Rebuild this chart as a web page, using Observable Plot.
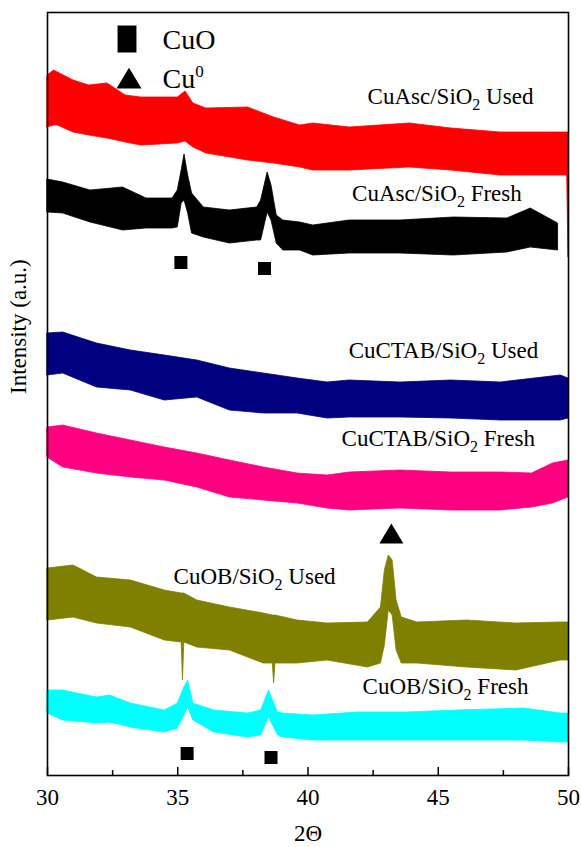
<!DOCTYPE html>
<html><head><meta charset="utf-8">
<script src="https://cdn.jsdelivr.net/npm/d3@7"></script>
<script src="https://cdn.jsdelivr.net/npm/@observablehq/plot@0.6"></script>
<style>html,body{margin:0;padding:0;background:#fff} svg{display:block} svg text{font-family:"Liberation Serif",serif}</style>
</head><body><div id="chart"></div>
<script>
// ---- data: 2θ (deg) and upper / lower edge of each noisy XRD trace (intensity, a.u.) ----
const ascUsedX  = [30.0, 30.25, 30.4, 31.0, 31.6, 32.3, 33.0, 33.6, 35.0, 35.3, 35.6, 36.1, 37.7, 38.7, 39.7, 40.2, 41.6, 43.9, 45.5, 47.4, 49.7, 49.95, 50.0];
const ascUsedHi = [700, 705, 703, 695, 690, 692, 680, 678, 678, 684, 672, 667, 668, 658, 650, 652, 648, 652, 647, 643, 643, 643, 643];
const ascUsedLo = [648, 650, 650, 643, 640, 637, 633, 630, 632, 634, 628, 622, 615, 612, 608, 605, 605, 608, 605, 600, 600, 600, 518];

const ascFreshX  = [30.0, 30.6, 31.65, 32.9, 33.8, 34.8, 35.0, 35.15, 35.26, 35.4, 35.55, 36.0, 37.0, 38.05, 38.2, 38.45, 38.6, 38.8, 39.05, 39.7, 40.2, 41.6, 43.55, 45.6, 47.65, 48.55, 49.6];
const ascFreshHi = [596, 593, 585, 588, 577, 577, 585, 605, 621, 600, 582, 568, 565, 568, 575, 603, 590, 560, 555, 553, 550, 555, 555, 558, 557, 567, 552];
const ascFreshLo = [563, 562, 553, 545, 547, 547, 548, 572, 575, 562, 542, 538, 532, 535, 535, 563, 555, 532, 525, 525, 520, 522, 522, 520, 523, 528, 525];

const ctabUsedX  = [30.0, 30.6, 31.9, 33.2, 34.5, 35.75, 37.0, 38.3, 39.6, 40.75, 41.6, 43.55, 45.5, 47.4, 49.7, 50.0];
const ctabUsedHi = [442, 443, 432, 425, 420, 415, 407, 402, 397, 393, 395, 393, 395, 393, 400, 397];
const ctabUsedLo = [400, 402, 388, 385, 375, 378, 365, 362, 362, 357, 358, 358, 357, 355, 355, 357];

const ctabFreshX  = [30.0, 30.6, 31.9, 33.2, 34.5, 35.75, 37.0, 38.3, 39.6, 40.75, 41.6, 43.55, 45.5, 47.4, 48.6, 49.4, 50.0];
const ctabFreshHi = [348, 350, 342, 335, 328, 322, 315, 308, 302, 300, 303, 305, 303, 303, 302, 312, 315];
const ctabFreshLo = [318, 308, 302, 298, 295, 288, 278, 275, 272, 267, 265, 267, 265, 265, 268, 272, 278];

const obUsedX  = [30.0, 31.0, 31.9, 33.2, 34.5, 35.15, 35.2, 35.25, 35.75, 37.0, 38.3, 38.65, 38.7, 38.75, 39.6, 40.75, 42.3, 42.8, 42.95, 43.1, 43.25, 43.4, 43.6, 44.2, 46.1, 48.0, 49.7, 50.0];
const obUsedHi = [207, 210, 198, 195, 185, 182, 182, 182, 175, 168, 162, 160, 160, 160, 155, 152, 153, 168, 205, 220, 215, 175, 158, 153, 155, 152, 153, 153];
const obUsedLo = [155, 158, 152, 148, 135, 133, 95, 133, 128, 125, 112, 112, 92, 112, 112, 115, 108, 112, 130, 165, 160, 125, 112, 112, 108, 105, 115, 115];

const obFreshX  = [30.0, 30.6, 31.9, 32.4, 33.2, 34.5, 35.0, 35.25, 35.4, 35.6, 36.4, 37.7, 38.2, 38.5, 38.85, 39.05, 40.2, 41.9, 43.8, 45.7, 48.3, 49.7, 50.0];
const obFreshHi = [85, 85, 78, 80, 72, 65, 72, 88, 95, 72, 65, 62, 65, 85, 63, 62, 60, 63, 63, 65, 67, 62, 62];
const obFreshLo = [62, 55, 52, 53, 48, 43, 47, 60, 68, 55, 43, 38, 40, 58, 40, 38, 35, 35, 35, 35, 35, 33, 33];

// peak markers
const cuoPeakX = [35.12, 38.33, 35.36, 38.58];
const cuoPeakY = [513, 507, 22, 18];
const cuPeakX = [43.2];
const cuPeakY = [242];

// trace labels
const labelText = ["CuAsc/SiO2 Used", "CuAsc/SiO2 Fresh", "CuCTAB/SiO2 Used", "CuCTAB/SiO2 Fresh", "CuOB/SiO2 Used", "CuOB/SiO2 Fresh"];
const labelX = [45.47, 44.95, 45.2, 45.0, 37.95, 45.28];
const labelY = [679, 582, 425, 337, 199, 89];

// legend entries
const legendText = ["CuO", "Cu0"];

// axis ticks
const majorTicks = [30, 35, 40, 45, 50];
const minorTicks = [32.5, 37.5, 42.5, 47.5];

// ---- build ----
const FONT = "Liberation Serif";
const series = [
  {x: ascUsedX, hi: ascUsedHi, lo: ascUsedLo, color: "#ff0000"},
  {x: ascFreshX, hi: ascFreshHi, lo: ascFreshLo, color: "#000000"},
  {x: ctabUsedX, hi: ctabUsedHi, lo: ctabUsedLo, color: "#000080"},
  {x: ctabFreshX, hi: ctabFreshHi, lo: ctabFreshLo, color: "#ff0080"},
  {x: obUsedX, hi: obUsedHi, lo: obUsedLo, color: "#808000"},
  {x: obFreshX, hi: obFreshHi, lo: obFreshLo, color: "#00ffff"}
];
const bandMarks = series.map(s => {
  const rows = s.x.map((x, i) => ({x, hi: s.hi[i], lo: s.lo[i]}));
  return Plot.areaY(rows, {x: "x", y1: "lo", y2: "hi", fill: s.color, stroke: s.color, strokeWidth: 0.8, curve: "linear"});
});

const sq = {draw(ctx, size) { const r = Math.sqrt(size / Math.PI); ctx.rect(-r, -r, 2 * r, 2 * r); }};
const tallRect = {draw(ctx, size) { const r = Math.sqrt(size / Math.PI); ctx.rect(-0.7 * r, -r, 1.4 * r, 2 * r); }};
const tri = {draw(ctx, size) { const r = Math.sqrt(size / Math.PI); ctx.moveTo(0, -0.83 * r); ctx.lineTo(r, 0.83 * r); ctx.lineTo(-r, 0.83 * r); ctx.closePath(); }};

const legendStyle = {frameAnchor: "top-left", dx: 115, textAnchor: "start", lineAnchor: "middle", fontSize: 28, fontFamily: FONT, fill: "black"};

const chart = Plot.plot({
  width: 581, height: 847,
  marginTop: 12, marginBottom: 72, marginLeft: 47, marginRight: 13,
  x: {domain: [30, 50]},
  y: {domain: [0, 763], axis: null},
  style: {fontFamily: FONT, fontSize: "23px", color: "black", background: "white"},
  marks: [
    ...bandMarks,
    Plot.dot(cuoPeakX, {x: d => d, y: (d, i) => cuoPeakY[i], symbol: sq, r: 6.5, fill: "black", stroke: null}),
    Plot.dot(cuPeakX, {x: d => d, y: (d, i) => cuPeakY[i], symbol: tri, r: 12, fill: "black", stroke: null}),
    Plot.text(labelText, {x: (d, i) => labelX[i], y: (d, i) => labelY[i], text: d => d, fontSize: 23, fontFamily: FONT, fill: "black", lineAnchor: "middle"}),
    // legend
    Plot.dot([0], {frameAnchor: "top-left", dx: 79.5, dy: 26.5, symbol: tallRect, r: 13.5, fill: "black", stroke: null}),
    Plot.dot([0], {frameAnchor: "top-left", dx: 81.5, dy: 65.5, symbol: tri, r: 12.5, fill: "black", stroke: null}),
    Plot.text([legendText[0]], {...legendStyle, dy: 28}),
    Plot.text([legendText[1]], {...legendStyle, dy: 67}),
    // frame + ticks
    Plot.frame({stroke: "black", strokeWidth: 1.6}),
    Plot.tickX(majorTicks, {x: d => d, insetTop: 755, stroke: "black", strokeWidth: 1.5}),
    Plot.tickX(minorTicks, {x: d => d, insetTop: 758, stroke: "black", strokeWidth: 1.5}),
    Plot.axisX(majorTicks, {tickSize: 0, tickPadding: 13, tickFormat: d => String(d), fontSize: 23, fontFamily: FONT, label: null}),
    Plot.text(["2Θ"], {frameAnchor: "bottom", dy: 58, lineAnchor: "middle", fontSize: 23, fontFamily: FONT, fill: "black"}),
    Plot.text(["Intensity (a.u.)"], {frameAnchor: "left", dx: -29, rotate: -90, lineAnchor: "middle", fontSize: 23, fontFamily: FONT, fill: "black"})
  ]
});

// subscripts / superscripts
const NS = "http://www.w3.org/2000/svg";
chart.querySelectorAll("text").forEach(t => {
  const s = t.textContent;
  if (s.includes("SiO2")) {
    const [a, b] = s.split("SiO2");
    t.textContent = "";
    const t1 = document.createElementNS(NS, "tspan"); t1.textContent = a + "SiO";
    const t2 = document.createElementNS(NS, "tspan"); t2.textContent = "2"; t2.setAttribute("font-size", "16"); t2.setAttribute("dy", "6");
    const t3 = document.createElementNS(NS, "tspan"); t3.textContent = b; t3.setAttribute("dy", "-6");
    t.append(t1, t2, t3);
  } else if (s === "Cu0") {
    t.textContent = "";
    const t1 = document.createElementNS(NS, "tspan"); t1.textContent = "Cu";
    const t2 = document.createElementNS(NS, "tspan"); t2.textContent = "0"; t2.setAttribute("font-size", "17"); t2.setAttribute("dy", "-11");
    t.append(t1, t2);
  }
});
document.getElementById("chart").append(chart);
</script>
</body></html>
